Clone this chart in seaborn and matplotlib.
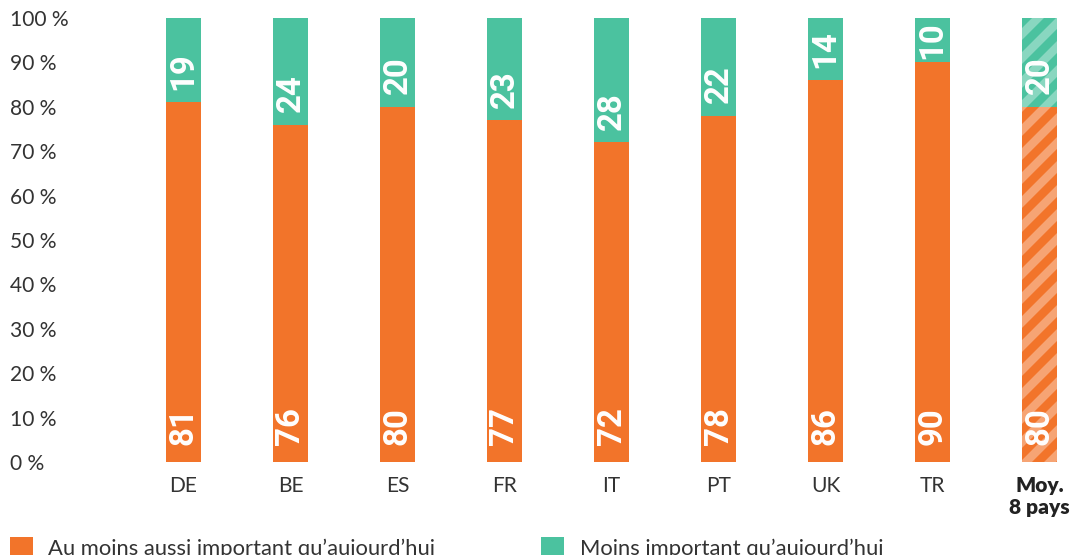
import numpy as np
import pandas as pd
import seaborn as sns
import matplotlib.pyplot as plt
from matplotlib.patches import Patch

# Survey shares per country (%)
countries = ["DE", "BE", "ES", "FR", "IT", "PT", "UK", "TR", "Moy.\n8 pays"]
at_least_as_important = [81, 76, 80, 77, 72, 78, 86, 90, 80]
less_important = [19, 24, 20, 23, 28, 22, 14, 10, 20]
y_ticks = list(range(0, 101, 10))
legend_labels = ["Au moins aussi important qu\u2019aujourd\u2019hui",
                 "Moins important qu\u2019aujourd\u2019hui"]

ORANGE = "#F2742A"
GREEN = "#4BC29F"
TEXT = "#333333"
BAR_W = 0.327

sns.set_theme(style="white")
plt.rcParams['font.family'] = ['Lato', 'DejaVu Sans']
plt.rcParams['hatch.linewidth'] = 4.2

W, H, DPI = 1074, 555, 144
fig = plt.figure(figsize=(W / DPI, H / DPI), dpi=DPI)
ax = fig.add_axes([130 / W, 93 / H, (W - 130) / W, 444 / H])

df = pd.DataFrame({"pays": countries,
                   "bas": at_least_as_important,
                   "haut": less_important})
df["total"] = df["bas"] + df["haut"]

# stacked bars: full height in green, lower share in orange on top of it
sns.barplot(data=df, x="pays", y="total", color=GREEN, width=BAR_W,
            saturation=1, linewidth=0, ax=ax)
sns.barplot(data=df, x="pays", y="bas", color=ORANGE, width=BAR_W,
            saturation=1, linewidth=0, ax=ax)

# average bar is hatched with translucent white stripes
for cont in ax.containers:
    bar = cont[-1]
    bar.set_hatch("//")
    bar.set_edgecolor((1, 1, 1, 0.35))
    bar.set_linewidth(0)

# value labels, rotated, in white
lab_kw = dict(rotation=90, ha="center", va="bottom", color="white",
              fontsize=16.5, fontweight="bold", family=["Roboto", "DejaVu Sans"])
for i, (lo, hi) in enumerate(zip(at_least_as_important, less_important)):
    ax.text(i, 3.9, str(lo), **lab_kw)
    top = lo + hi
    ax.text(i, min(lo + 2.8, top - 9.3), str(hi), **lab_kw)

ax.set_ylim(0, 100)
ax.set_xlim(-0.5, (W - 183.5) / 107)
ax.set_yticks(y_ticks)
ax.set_yticklabels([f"{v} %" for v in y_ticks])
for lbl in ax.get_yticklabels():
    lbl.set_horizontalalignment("left")
ax.tick_params(axis="y", length=0, pad=60, labelsize=10.5, labelcolor=TEXT)
ax.tick_params(axis="x", length=0, pad=7, labelsize=10.5, labelcolor=TEXT)
last = ax.get_xticklabels()[-1]
last.set_fontweight("heavy")
last.set_color("#222222")
ax.set_xlabel("")
ax.set_ylabel("")
sns.despine(ax=ax, left=True, bottom=True)

# legend entries along the bottom edge
for x0, col, lab in [(10, ORANGE, legend_labels[0]), (541, GREEN, legend_labels[1])]:
    fig.legend(handles=[Patch(facecolor=col, edgecolor="none")], labels=[lab],
               loc="upper left", bbox_to_anchor=(x0 / W, 1 - 537 / H),
               frameon=False, borderpad=0, borderaxespad=0,
               handlelength=1.05, handleheight=1.05, handletextpad=0.7,
               fontsize=11, labelcolor=TEXT)

fig.savefig("out.png", dpi=DPI)
